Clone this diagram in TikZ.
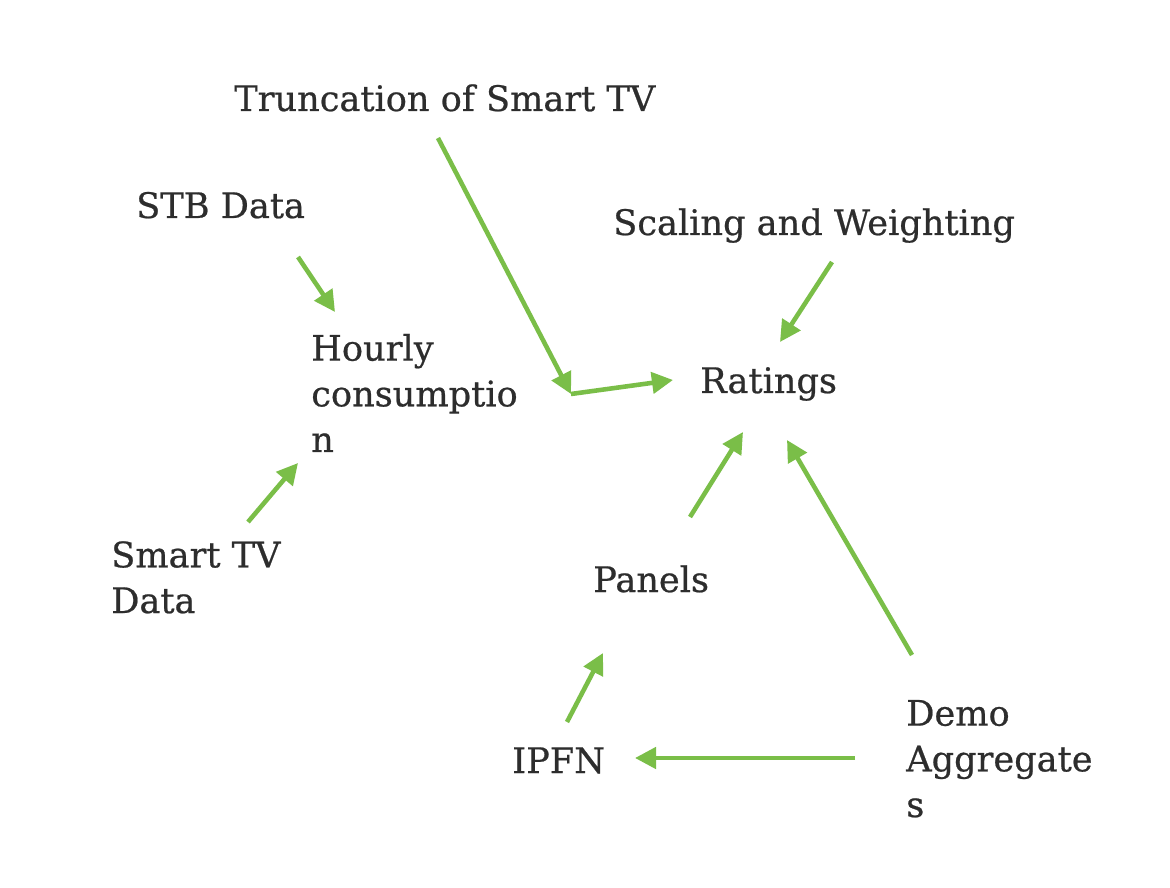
\documentclass[tikz,border=0pt]{standalone}
\usepackage{fontspec}
\setmainfont{DejaVu Serif}[FakeBold=0.6]
\usetikzlibrary{arrows.meta}
\usetikzlibrary{calc}
\definecolor{arrowgreen}{RGB}{122,190,72}
\definecolor{textgray}{RGB}{45,45,45}

\begin{document}
\begin{tikzpicture}[x=0.02cm,y=-0.02cm,->,>={Triangle[length=12pt,width=12pt]},
                    line width=2.6pt,draw=arrowgreen,
                    main node/.style={anchor=base west,inner sep=0pt,align=left,
                      text=textgray,font=\fontsize{20}{26}\selectfont}]

  \fill[white,-] (0,0) rectangle (1170,888);

  % base west = baseline of the last line
  \node[main node] (trunc) at (232,111) {Truncation of Smart TV};
  \node[main node] (stb) at (134,218) {STB Data};
  \node[main node] (scaling) at (611,235) {Scaling and Weighting};
  \node[main node] (hourly) at (309,452) {Hourly\\consumptio\\n};
  \node[main node] (ratings) at (698,393) {Ratings};
  \node[main node] (smarttv) at (109,613) {Smart TV\\Data};
  \node[main node] (panels) at (591,592) {Panels};
  \node[main node] (ipfn) at (510,773) {IPFN};
  \node[main node] (demo) at (904,817) {Demo\\Aggregate\\s};
  \coordinate (merge) at (571,394);

  \path
    ($(stb.base west)+(164,39)$) edge ($(hourly.base west)+(26,-140)$)
    ($(smarttv.base west)+(139,-91)$) edge ($(hourly.base west)+(-11,11)$)
    ($(trunc.base west)+(206,27)$) edge (merge)
    (merge) edge ($(ratings.base west)+(-25,-13)$)
    ($(scaling.base west)+(221,27)$) edge ($(ratings.base west)+(82,-51)$)
    ($(panels.base west)+(99,-75)$) edge ($(ratings.base west)+(45,39)$)
    ($(demo.base west)+(8,-162)$) edge ($(ratings.base west)+(89,47)$)
    ($(ipfn.base west)+(57,-51)$) edge ($(panels.base west)+(12,61)$)
    ($(demo.base west)+(-49,-59)$) edge ($(ipfn.base west)+(125,-15)$)
  ;
\end{tikzpicture}
\end{document}
